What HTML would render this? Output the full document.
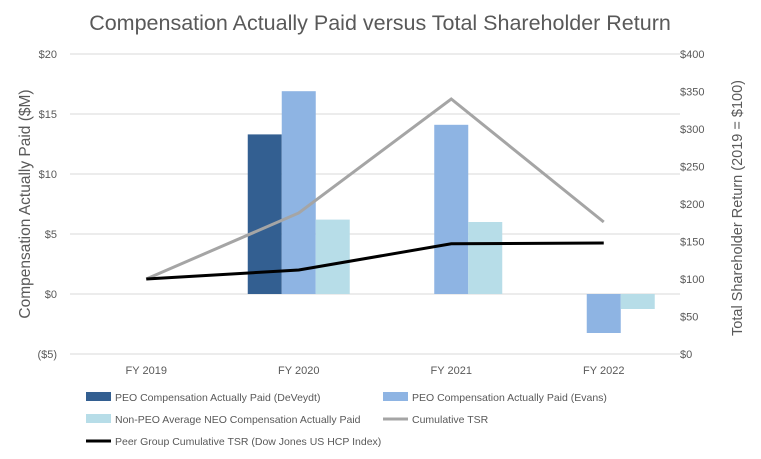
<!DOCTYPE html>
<html><head><meta charset="utf-8"><style>
body{margin:0;background:#fff;}
svg{display:block;font-family:"Liberation Sans",sans-serif;}
</style></head><body>
<svg id="chart" width="761" height="459" viewBox="0 0 761 459">
<text x="380" y="30" text-anchor="middle" font-size="21.5" fill="#595959">Compensation Actually Paid versus Total Shareholder Return</text>
<g id="grid"></g><g id="bars"></g><g id="lines"></g><g id="axes"></g>
<text transform="translate(30,204) rotate(-90)" text-anchor="middle" font-size="15.5" fill="#595959">Compensation Actually Paid ($M)</text>
<text transform="translate(742,208) rotate(-90)" text-anchor="middle" font-size="14.5" fill="#595959">Total Shareholder Return (2019 = $100)</text>
<g id="legend"></g>
</svg>
<script>
const categories=["FY 2019","FY 2020","FY 2021","FY 2022"];
const deveydt=[null,13.3,null,null];
const evans=[null,16.9,14.1,-3.25];
const nonPeo=[null,6.2,6.0,-1.25];
const tsr=[100,188,340,176];
const peerTsr=[100,112,147,148];
const leftTicks=[-5,0,5,10,15,20];
const leftTickLabels=["($5)","$0","$5","$10","$15","$20"];
const rightTicks=[0,50,100,150,200,250,300,350,400];
const ns="http://www.w3.org/2000/svg";
const plotL=70,plotR=680,catW=(plotR-plotL)/categories.length;
const yL=v=>294-v*12;
const yR=v=>354-v*0.75;
const xC=i=>plotL+catW*(i+0.5);
function mk(tag,attrs,parent){const e=document.createElementNS(ns,tag);for(const k in attrs)e.setAttribute(k,attrs[k]);document.getElementById(parent).appendChild(e);return e;}
leftTicks.forEach((t,i)=>{
 const l=mk('line',{x1:plotL,x2:plotR,y1:yL(t),y2:yL(t),stroke:'#d9d9d9','stroke-width':1},'grid');
 
 
 const tx=mk('text',{x:57,y:yL(t)+4,'text-anchor':'end','font-size':11,fill:'#595959'},'axes');
 tx.textContent=leftTickLabels[i];
 
 
});
rightTicks.forEach(t=>{
 const tx=mk('text',{x:680,y:yR(t)+4,'font-size':11,fill:'#595959'},'axes');
 tx.textContent='$'+t;
 
 
});
categories.forEach((c,i)=>{
 const tx=mk('text',{x:xC(i),y:374,'text-anchor':'middle','font-size':11,fill:'#595959'},'axes');
 tx.textContent=c;
 
 
});
const series=[[deveydt,'#335f91','bar-deveydt'],[evans,'#8eb4e3','bar-evans'],[nonPeo,'#b7dde8','bar-non-peo']];
const bw=34;
series.forEach(([arr,col,name],s)=>{
 arr.forEach((v,i)=>{
  if(v===null)return;
  const x=xC(i)-1.5*bw+s*bw;
  const y=Math.min(yL(v),yL(0)),h=Math.abs(yL(v)-yL(0));
  const r=mk('rect',{x:x,y:y,width:bw,height:h,fill:col},'bars');
  
  
 });
});
function line(arr,col,w,name){
 const p=mk('polyline',{points:arr.map((v,i)=>xC(i)+','+yR(v)).join(' '),fill:'none',stroke:col,'stroke-width':w},'lines');
 
 
}
line(tsr,'#a5a5a5',3,'line-cumulative-tsr');
line(peerTsr,'#000000',3,'line-peer-tsr');
const legend=[['PEO Compensation Actually Paid (DeVeydt)','#335f91','rect',86,397],['PEO Compensation Actually Paid (Evans)','#8eb4e3','rect',383,397],['Non-PEO Average NEO Compensation Actually Paid','#b7dde8','rect',86,419],['Cumulative TSR','#a5a5a5','line',383,419],['Peer Group Cumulative TSR (Dow Jones US HCP Index)','#000000','line',86,441]];
legend.forEach(([t,col,type,x,y])=>{
 let sw;
 if(type==='rect') sw=mk('rect',{x:x,y:y-5,width:25,height:9,fill:col},'legend');
 else sw=mk('line',{x1:x,x2:x+25,y1:y,y2:y,stroke:col,'stroke-width':3},'legend');
 
 
 const tx=mk('text',{x:x+29,y:y+4,'font-size':10.5,fill:'#595959'},'legend');
 tx.textContent=t;
 
 
});
</script>
</body></html>
